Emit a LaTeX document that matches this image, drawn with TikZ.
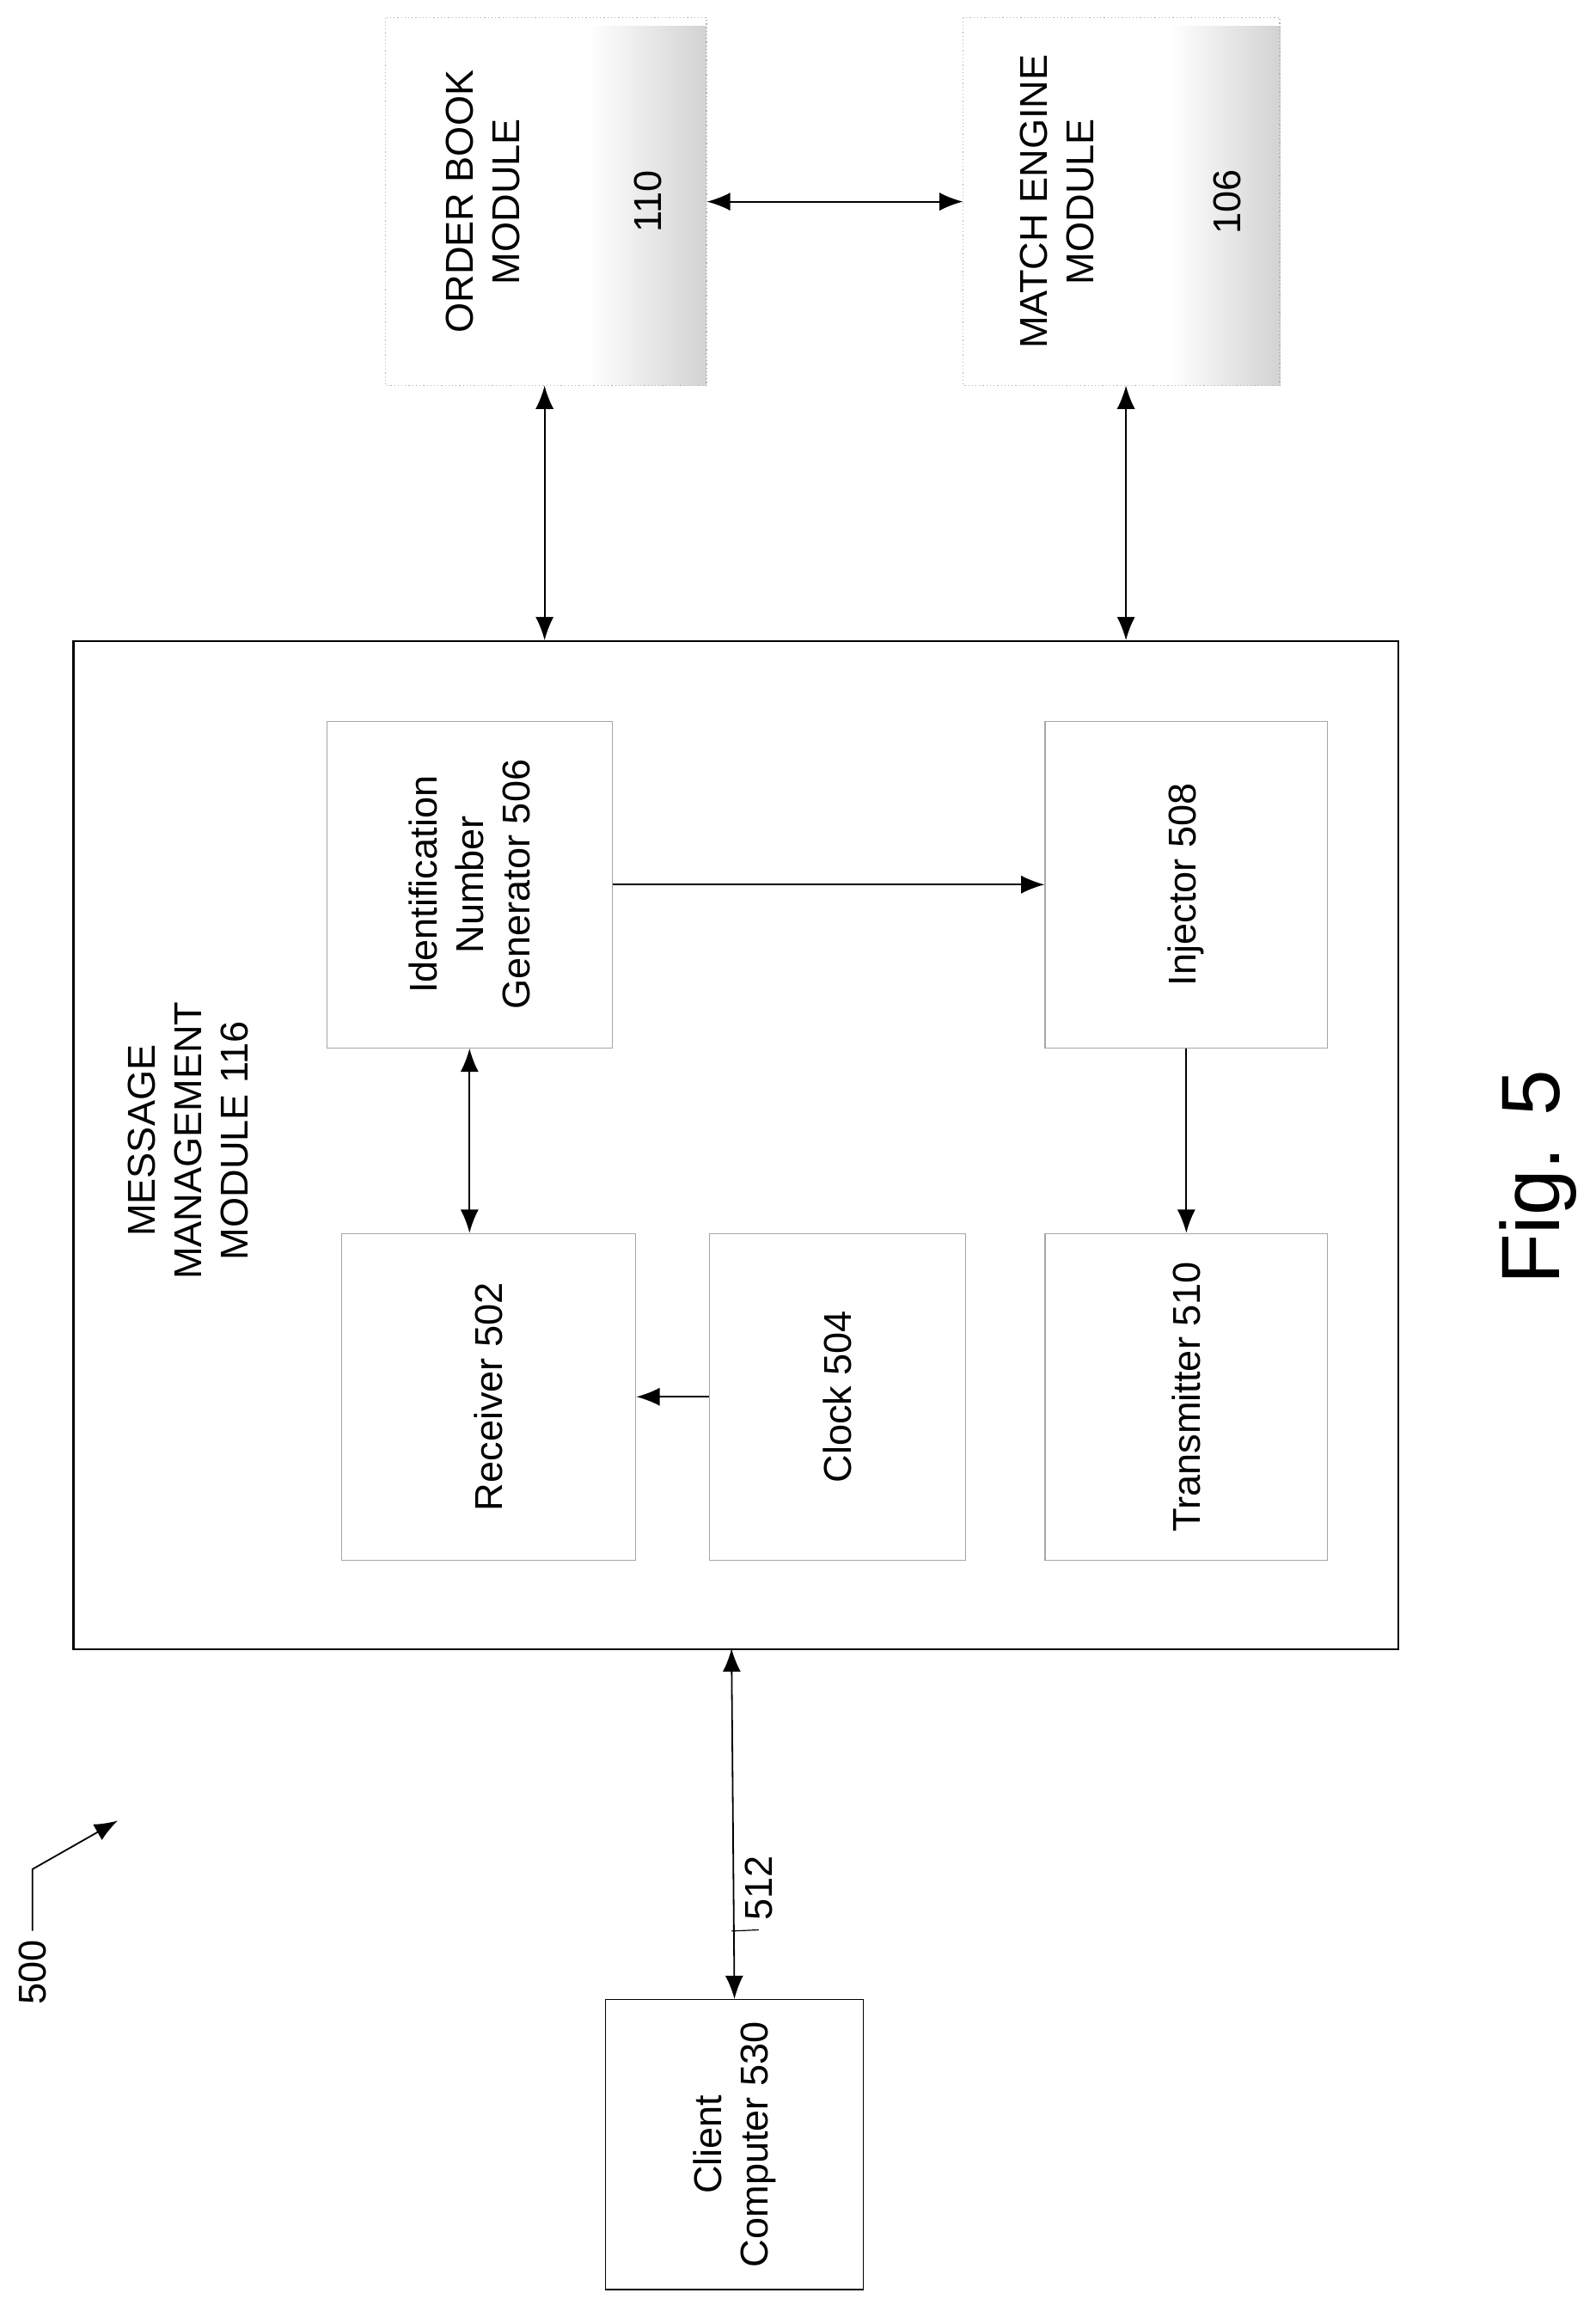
\documentclass[tikz,border=0pt]{standalone}
\usepackage{fontspec}
\setmainfont{Liberation Sans}
\usetikzlibrary{positioning,arrows.meta}
\tikzset{
	blk/.style={draw=gray!70, thin, align=center, rotate=90, font=\fontsize{15}{18}\selectfont},
	mod/.style={draw=gray!60, densely dotted, align=center, rotate=90, font=\fontsize{15}{18}\selectfont},
	link/.style={-{Latex[length=9pt,width=7pt]}, semithick},
	dlink/.style={{Latex[length=9pt,width=7pt]}-{Latex[length=9pt,width=7pt]}, semithick},
}
\begin{document}
\begin{tikzpicture}[x=0.02cm,y=-0.02cm]
    \useasboundingbox (0,0) rectangle (1084,1562);

    % modules at the top
    \shade[left color=white,right color=gray!35] (400,18) rectangle (480,262);
    \shade[left color=white,right color=gray!35] (795,18) rectangle (870,262);
    \node[mod, minimum width=250*0.02cm, minimum height=218*0.02cm] (book) at (371,137) {};
    \node[mod, minimum width=250*0.02cm, minimum height=215*0.02cm] (engine) at (762,137) {};
    \node[rotate=90, align=center, font=\fontsize{15}{18}\selectfont] at (328,137) {ORDER BOOK\\MODULE};
    \node[rotate=90, font=\fontsize{15}{18}\selectfont] at (440,137) {110};
    \node[rotate=90, align=center, font=\fontsize{15}{18}\selectfont] at (718,137) {MATCH ENGINE\\MODULE};
    \node[rotate=90, font=\fontsize{15}{18}\selectfont] at (834,137) {106};

    % message management module
    \node[draw, thick, minimum width=685*0.02cm, minimum height=900*0.02cm, rotate=90] (mmm) at (500,778) {};
    \node[rotate=90, align=center, font=\fontsize{15}{18}\selectfont] at (128,775) {MESSAGE\\MANAGEMENT\\MODULE 116};

    \node[blk, minimum width=222*0.02cm, minimum height=194*0.02cm] (idgen) at (319,601) {Identification\\Number\\Generator 506};
    \node[blk, minimum width=222*0.02cm, minimum height=192*0.02cm] (inj) at (806,601) {Injector 508};
    \node[blk, minimum width=222*0.02cm, minimum height=200*0.02cm] (recv) at (332,949) {Receiver 502};
    \node[blk, minimum width=222*0.02cm, minimum height=174*0.02cm] (clock) at (569,949) {Clock 504};
    \node[blk, minimum width=222*0.02cm, minimum height=192*0.02cm] (trans) at (806,949) {Transmitter 510};

    \node[blk, draw=black, minimum width=197*0.02cm, minimum height=175*0.02cm] (client) at (499,1457) {Client\\Computer 530};

    % connectors
    \draw[dlink] (book.south) -- (engine.north);
    \draw[dlink] (370,262) -- (370,435);
    \draw[dlink] (765,262) -- (765,435);
    \draw[link] (idgen) -- (inj);
    \draw[dlink] (idgen.west) -- (idgen.west |- recv.east);
    \draw[link] (clock) -- (recv);
    \draw[link] (inj) -- (trans);
    \draw[dlink] (497,1120) -- (client.east);

    % reference labels
    \node[rotate=90, font=\fontsize{15}{18}\selectfont, anchor=north] (lbl) at (500,1283) {512};
    \draw (497,1312) -- (lbl.west);
    \node[rotate=90, font=\fontsize{15}{18}\selectfont] (ref) at (22,1340) {500};
    \coordinate (refend) at (80,1237);
    \draw[link] (ref.east) -- (22,1270) -- (refend);
    \node[rotate=90, font=\fontsize{32}{38}\selectfont] (fig) at (1045,800) {Fig. 5};
\end{tikzpicture}
\end{document}
